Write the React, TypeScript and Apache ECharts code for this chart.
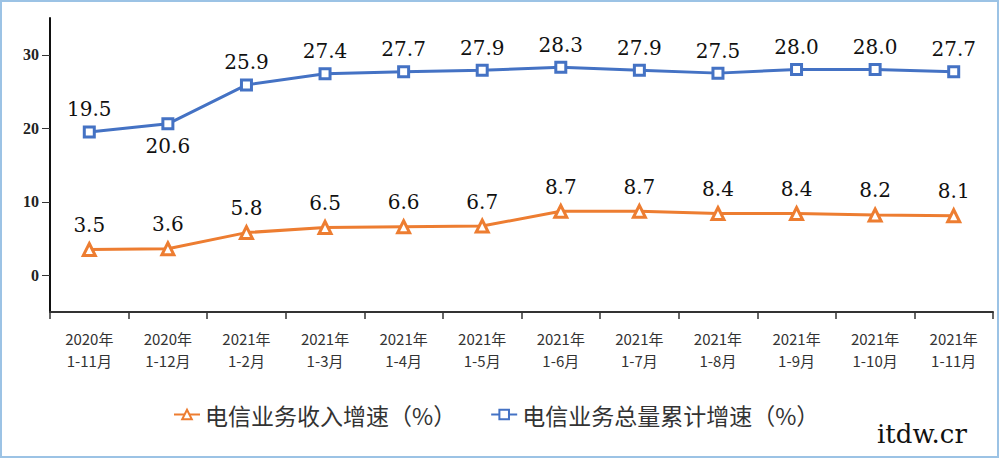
import React, { useEffect, useRef } from "react";
import * as echarts from "echarts";

const categories = [
  "2020年\n1-11月", "2020年\n1-12月", "2021年\n1-2月", "2021年\n1-3月",
  "2021年\n1-4月", "2021年\n1-5月", "2021年\n1-6月", "2021年\n1-7月",
  "2021年\n1-8月", "2021年\n1-9月", "2021年\n1-10月", "2021年\n1-11月",
];
const revenueGrowth = [3.5, 3.6, 5.8, 6.5, 6.6, 6.7, 8.7, 8.7, 8.4, 8.4, 8.2, 8.1];
const volumeGrowth = [19.5, 20.6, 25.9, 27.4, 27.7, 27.9, 28.3, 27.9, 27.5, 28.0, 28.0, 27.7];
const yTicks = [0, 10, 20, 30];
const seriesNames = ["电信业务收入增速（%）", "电信业务总量累计增速（%）"];
const watermark = "itdw.cr";

const labelFont = "'DejaVu Serif', 'Liberation Serif', serif";

export default function App() {
  const ref = useRef<HTMLDivElement>(null);
  useEffect(() => {
    document.body.style.margin = "0";
    if (!ref.current) return;
    const chart = echarts.init(ref.current, null, { renderer: "svg" });
    chart.setOption({
      animation: false,
      backgroundColor: "#ffffff",
      grid: { left: 50, right: 7, top: 18, bottom: 147, containLabel: false },
      legend: {
        left: 168,
        top: 398,
        itemWidth: 26,
        itemHeight: 12,
        itemGap: 34,
        textStyle: { fontSize: 23, color: "#333", fontFamily: "'Noto Sans CJK SC', sans-serif" },
        data: seriesNames,
      },
      xAxis: {
        type: "category",
        data: categories,
        boundaryGap: true,
        axisLine: { onZero: false, lineStyle: { color: "#333", width: 2 } },
        axisTick: { show: true, length: 7, lineStyle: { color: "#333", width: 1.5 } },
        axisLabel: {
          interval: 0,
          margin: 15,
          fontSize: 15,
          lineHeight: 22,
          color: "#333",
          fontFamily: "'Noto Sans CJK SC', sans-serif",
        },
      },
      yAxis: {
        type: "value",
        min: -5,
        max: 35,
        splitLine: { show: false },
        axisLine: { show: true, lineStyle: { color: "#111", width: 2 } },
        axisTick: { show: true, length: 8, customValues: yTicks, lineStyle: { color: "#333", width: 1 } },
        axisLabel: {
          customValues: yTicks,
          margin: 11,
          fontSize: 16,
          fontWeight: "bold",
          color: "#222",
          fontFamily: "'Liberation Serif', serif",
        },
      },
      series: [
        {
          name: seriesNames[0],
          type: "line",
          data: revenueGrowth,
          symbol: "triangle",
          symbolSize: 12,
          itemStyle: { color: "#ffffff", borderColor: "#ed7d31", borderWidth: 3 },
          lineStyle: { color: "#ed7d31", width: 3 },
          label: {
            show: true,
            position: "top",
            distance: 7,
            fontSize: 20,
            color: "#111",
            fontFamily: labelFont,
            formatter: (p: any) => Number(p.value).toFixed(1),
          },
        },
        {
          name: seriesNames[1],
          type: "line",
          data: volumeGrowth.map((v, i) => ({
            value: v,
            label: { position: i === 1 ? "bottom" : "top" },
          })),
          symbol: "rect",
          symbolSize: 10,
          itemStyle: { color: "#ffffff", borderColor: "#4472c4", borderWidth: 3 },
          lineStyle: { color: "#4472c4", width: 3 },
          label: {
            show: true,
            position: "top",
            distance: 6,
            fontSize: 20,
            color: "#111",
            fontFamily: labelFont,
            formatter: (p: any) => Number(p.value).toFixed(1),
          },
        },
      ],
      graphic: [
        {
          type: "rect",
          shape: { x: 1, y: 1, width: 997, height: 456 },
          style: { fill: "none", stroke: "#9cc3e5", lineWidth: 2 },
          silent: true,
        },
        {
          type: "text",
          left: 877,
          top: 421,
          style: {
            text: watermark,
            fontSize: 26,
            fill: "#111",
            fontFamily: "'DejaVu Serif', serif",
          },
        },
      ],
    });
    return () => chart.dispose();
  }, []);
  return <div ref={ref} style={{ width: 1000, height: 459 }} />;
}
